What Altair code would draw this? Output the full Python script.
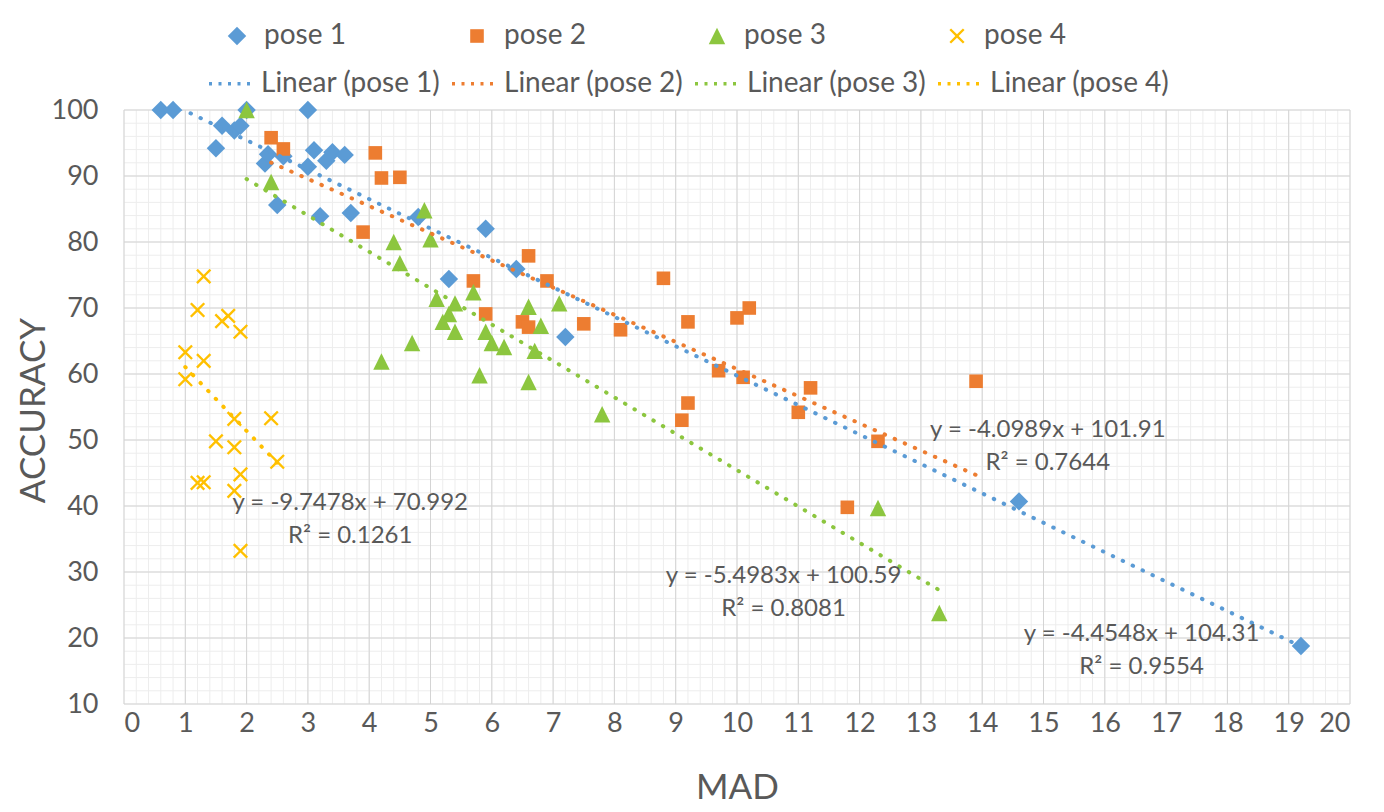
import altair as alt
import pandas as pd

# ---------------- data ----------------
poses = ["pose 1", "pose 2", "pose 3", "pose 4"]
trend_names = ["Linear (pose 1)", "Linear (pose 2)", "Linear (pose 3)", "Linear (pose 4)"]
colors = ["#5B9BD5", "#ED7D31", "#8CC63F", "#FFC000"]

pose1_mad = [0.6, 0.8, 1.5, 1.6, 1.8, 1.9, 2.0, 2.3, 2.35, 2.6, 2.5, 3.0, 3.0, 3.1, 3.2,
             3.3, 3.4, 3.6, 3.7, 4.8, 5.3, 5.9, 6.4, 7.2, 14.6, 19.2]
pose1_acc = [100, 100, 94.2, 97.6, 96.9, 97.6, 100, 91.9, 93.3, 93.0, 85.6, 100, 91.4, 93.9, 83.9,
             92.3, 93.6, 93.2, 84.4, 83.8, 74.4, 82.0, 75.9, 65.6, 40.7, 18.8]

pose2_mad = [2.4, 2.6, 4.1, 4.2, 4.5, 3.9, 5.7, 5.9, 6.5, 6.6, 6.6, 6.9, 7.5, 8.1, 8.8,
             9.2, 10.0, 10.2, 9.7, 10.1, 9.2, 9.1, 11.2, 11.0, 12.3, 11.8, 13.9]
pose2_acc = [95.8, 94.1, 93.5, 89.7, 89.8, 81.5, 74.1, 69.1, 67.9, 67.1, 77.9, 74.1, 67.6, 66.7, 74.5,
             67.9, 68.5, 70.0, 60.5, 59.5, 55.6, 53.0, 57.9, 54.2, 49.8, 39.8, 58.9]

pose3_mad = [2.0, 2.4, 4.9, 4.4, 5.0, 4.5, 5.1, 5.7, 5.4, 5.3, 5.2, 5.4, 4.7, 4.2, 5.9,
             6.0, 6.2, 5.8, 6.6, 6.8, 6.7, 6.6, 7.1, 7.8, 12.3, 13.3]
pose3_acc = [100, 89.1, 84.8, 80.0, 80.4, 76.8, 71.4, 72.4, 70.7, 69.1, 67.9, 66.4, 64.7, 61.9, 66.4,
             64.7, 64.1, 59.8, 70.2, 67.3, 63.5, 58.8, 70.7, 53.9, 39.7, 23.8]

pose4_mad = [1.3, 1.2, 1.6, 1.7, 1.9, 1.0, 1.3, 1.0, 1.8, 2.4, 1.5, 1.8, 2.5, 1.9, 1.2, 1.3, 1.8, 1.9]
pose4_acc = [74.8, 69.7, 68.0, 68.8, 66.4, 63.3, 62.0, 59.2, 53.2, 53.3, 49.8, 48.9, 46.7, 44.8,
             43.5, 43.6, 42.3, 33.2]

eq_text = ["y = -4.4548x + 104.31\nR² = 0.9554",
           "y = -4.0989x + 101.91\nR² = 0.7644",
           "y = -5.4983x + 100.59\nR² = 0.8081",
           "y = -9.7478x + 70.992\nR² = 0.1261"]
eq_mad = [16.6, 15.07, 10.76, 3.69]
eq_acc = [20.6, 51.5, 29.4, 40.45]

x_ticks = list(range(0, 21))
y_ticks = list(range(10, 101, 10))

# ---------------- build tables ----------------
rows = []
for name, xs, ys in zip(poses, [pose1_mad, pose2_mad, pose3_mad, pose4_mad],
                        [pose1_acc, pose2_acc, pose3_acc, pose4_acc]):
    for xv, yv in zip(xs, ys):
        rows.append({"pose": name, "MAD": xv, "ACC": yv})
df = pd.DataFrame(rows)
eq_df = pd.DataFrame({"pose": poses, "label": eq_text, "MAD": eq_mad, "ACC": eq_acc})

x_cross = ("M-1,-0.78L-0.78,-1L0,-0.22L0.78,-1L1,-0.78L0.22,0L1,0.78L0.78,1L0,0.22"
           "L-0.78,1L-1,0.78L-0.22,0Z")
tri = "M0,-1L1,1L-1,1Z"
shapes = ["diamond", "square", tri, x_cross]
sizes = [340, 185, 270, 230]

FONT = "Lato"
TXT = "#595959"

xscale = alt.Scale(domain=[0, 20], nice=False, zero=False)
yscale = alt.Scale(domain=[10, 100], nice=False, zero=False)

xaxis = alt.Axis(values=x_ticks, grid=False, domain=False, ticks=False,
                 labelFont=FONT, labelFontSize=27, labelColor=TXT, labelPadding=6,
                 title="MAD", titleFont=FONT, titleFontSize=35, titleColor=TXT,
                 titleFontWeight="normal", titleY=83, titleBaseline="middle")
yaxis = alt.Axis(values=y_ticks, grid=False, domain=False, ticks=False,
                 labelFont=FONT, labelFontSize=27, labelColor=TXT, labelPadding=26,
                 title="ACCURACY", titleFont=FONT, titleFontSize=35, titleColor=TXT,
                 titleFontWeight="normal", titleX=-91, titleY=300, titleBaseline="middle",
                 titleAngle=270)

X = lambda f: alt.X(f, scale=xscale, axis=xaxis)
Y = lambda f: alt.Y(f, scale=yscale, axis=yaxis)

minor_x = alt.Chart(alt.sequence(0, 20.05, 0.2, as_="v")).mark_rule(
    color="#EDEDED", strokeWidth=1).encode(x=X("v:Q"))
minor_y = alt.Chart(alt.sequence(10, 100.5, 2, as_="v")).mark_rule(
    color="#EDEDED", strokeWidth=1).encode(y=Y("v:Q"))
major_x = alt.Chart(alt.sequence(0, 20.5, 1, as_="v")).mark_rule(
    color="#D4D4D4", strokeWidth=1).encode(x=X("v:Q"))
major_y = alt.Chart(alt.sequence(10, 100.5, 10, as_="v")).mark_rule(
    color="#D4D4D4", strokeWidth=1).encode(y=Y("v:Q"))

leg1 = alt.Legend(title=None, orient="none", legendX=99, legendY=-88, direction="horizontal",
                  columns=4, columnPadding=117, labelFont=FONT, labelFontSize=28,
                  labelColor=TXT, symbolSize=150, labelOffset=13, symbolStrokeWidth=0,
                  labelLimit=400)

points = alt.Chart(df).mark_point(filled=True, opacity=1).encode(
    x=X("MAD:Q"),
    y=Y("ACC:Q"),
    color=alt.Color("pose:N", scale=alt.Scale(domain=poses, range=colors), legend=leg1),
    shape=alt.Shape("pose:N", scale=alt.Scale(domain=poses, range=shapes), legend=leg1),
    size=alt.Size("pose:N", scale=alt.Scale(type="ordinal", domain=poses, range=sizes),
                  legend=None),
)

leg2 = alt.Legend(title=None, orient="none", legendX=83, legendY=-52, direction="horizontal",
                  columns=4, columnPadding=4, labelFont=FONT, labelFontSize=28,
                  labelColor=TXT, symbolType="stroke", symbolSize=2209,
                  symbolStrokeWidth=3.5, symbolDash=[3, 6.5], labelOffset=3,
                  labelLimit=400)

lines = alt.Chart(df).transform_regression(
    "MAD", "ACC", groupby=["pose"]
).transform_calculate(
    trend="'Linear (' + datum.pose + ')'"
).mark_line(clip=True, strokeWidth=4, strokeDash=[0.5, 10.5], strokeCap="round").encode(
    x=X("MAD:Q"),
    y=Y("ACC:Q"),
    stroke=alt.Stroke("trend:N", scale=alt.Scale(domain=trend_names, range=colors), legend=leg2),
    detail="pose:N",
)

eqs = alt.Chart(eq_df).mark_text(font=FONT, fontSize=24, color=TXT, lineBreak="\n",
                                 align="center", baseline="middle", lineHeight=33).encode(
    x=X("MAD:Q"), y=Y("ACC:Q"), text="label:N")

chart = alt.layer(minor_x, minor_y, major_x, major_y, points, lines, eqs).properties(
    width=1226, height=594,
    autosize=alt.AutoSizeParams(type="none"),
    padding={"left": 116, "top": 102, "right": 26, "bottom": 100},
    background="white",
).configure_view(stroke=None)

chart.save("out.html", embed_options={"renderer": "svg", "actions": False})
